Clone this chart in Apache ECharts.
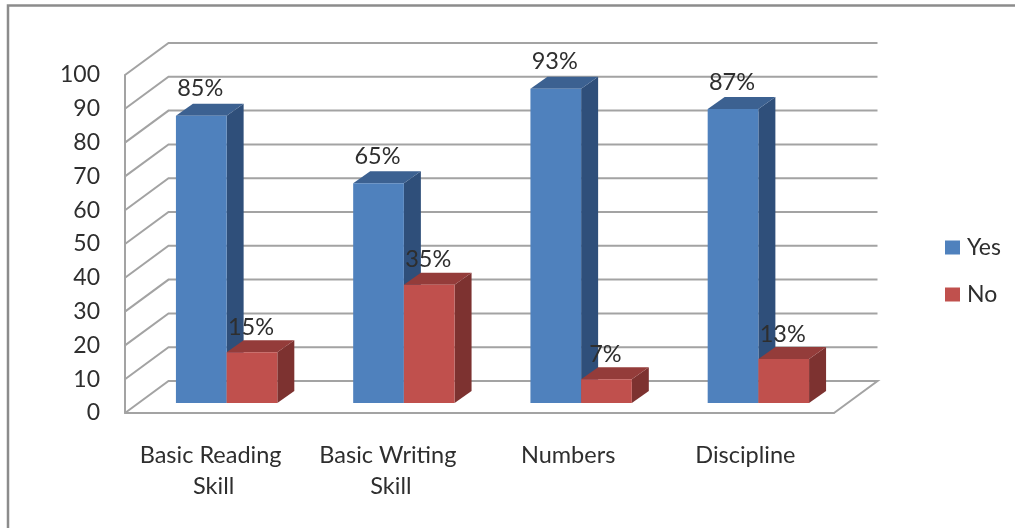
<!DOCTYPE html>
<html>
<head>
<meta charset="utf-8">
<style>html,body{margin:0;padding:0;background:#fff}#chart{width:1015px;height:528px}</style>
<script src="https://cdn.jsdelivr.net/npm/echarts@6/dist/echarts.min.js"></script>
</head>
<body>
<div id="chart"></div>
<script>
const categories = ['Basic Reading Skill', 'Basic Writing Skill', 'Numbers', 'Discipline'];
const yesValues = [85, 65, 93, 87];
const noValues = [15, 35, 7, 13];
const yTicks = [0, 10, 20, 30, 40, 50, 60, 70, 80, 90, 100];

// Pseudo-3D projection: how far the back wall and the bars are pushed up and to the right.
const wallDepth = [43.5, -32];
const barInset = [13, -10];
const barDepth = [17, -12];
const barShare = 0.286;
const gridColor = '#a3a3a3';
const textColor = '#2e2e2e';
const fontFamily = 'Lato';

function wallItem(params, api) {
  const sys = params.coordSys;
  const p = api.coord([0, api.value(1)]);
  const y = p[1];
  const left = sys.x;
  const right = sys.x + sys.width;
  const style = { stroke: gridColor, lineWidth: 2, fill: 'none' };
  const points = [
    [left, y],
    [left + wallDepth[0], y + wallDepth[1]],
    [right + wallDepth[0], y + wallDepth[1]]
  ];
  if (api.value(1) === 0) {
    points.push([right, y]);
  }
  return { type: 'polyline', shape: { points }, style, silent: true };
}

function barRenderer(side, labelGap, front, top, flank) {
  return function (params, api) {
    const base = api.coord([api.value(0), 0]);
    const head = api.coord([api.value(0), api.value(1)]);
    const w = api.size([1, 0])[0] * barShare;
    const x0 = base[0] + barInset[0] + (side < 0 ? -w : 0);
    const x1 = x0 + w;
    const y0 = base[1] + barInset[1];
    const y1 = head[1] + barInset[1];
    const dx = barDepth[0];
    const dy = barDepth[1];
    return {
      type: 'group',
      children: [
        { type: 'polygon', shape: { points: [[x1, y0], [x1 + dx, y0 + dy], [x1 + dx, y1 + dy], [x1, y1]] }, style: { fill: flank } },
        { type: 'polygon', shape: { points: [[x0, y1], [x1, y1], [x1 + dx, y1 + dy], [x0 + dx, y1 + dy]] }, style: { fill: top } },
        { type: 'rect', shape: { x: x0, y: y1, width: w, height: y0 - y1 }, style: { fill: front } },
        {
          type: 'text',
          z2: 50,
          style: {
            x: (x0 + x1) / 2 - 1,
            y: y1 - labelGap,
            text: api.value(1) + '%',
            fill: textColor,
            font: '23.5px ' + fontFamily,
            align: 'center',
            verticalAlign: 'middle'
          }
        }
      ]
    };
  };
}

const chart = echarts.init(document.getElementById('chart'), null, { renderer: 'canvas' });
chart.setOption({
  animation: false,
  backgroundColor: '#ffffff',
  textStyle: { fontFamily },
  graphic: [{
    type: 'polyline',
    silent: true,
    shape: { points: [[8, 528], [8, 5.5], [1015, 5.5]] },
    style: { stroke: '#8c8c8c', lineWidth: 2.5, fill: 'none' }
  }],
  grid: { left: 125, right: 181, top: 75, bottom: 115, containLabel: false },
  legend: {
    data: ['Yes', 'No'],
    orient: 'vertical',
    left: 940,
    top: 231,
    icon: 'rect',
    itemWidth: 15,
    itemHeight: 14,
    itemGap: 24,
    textStyle: { fontSize: 23, color: textColor, fontFamily, padding: [0, 0, 0, 2] }
  },
  xAxis: {
    type: 'category',
    data: categories,
    axisTick: { show: false },
    axisLine: { lineStyle: { color: gridColor, width: 2 } },
    axisLabel: {
      interval: 0,
      margin: 27,
      fontSize: 23.5,
      lineHeight: 31,
      color: textColor,
      fontFamily,
      width: 170,
      overflow: 'break'
    }
  },
  yAxis: {
    type: 'value',
    min: 0,
    max: 100,
    interval: 10,
    splitLine: { show: false },
    axisTick: { show: false },
    axisLine: { show: true, lineStyle: { color: gridColor, width: 2 } },
    axisLabel: { margin: 25, fontSize: 23, color: textColor, fontFamily, padding: [2, 0, 0, 0] }
  },
  series: [
    {
      name: 'walls',
      type: 'custom',
      clip: false,
      silent: true,
      z: 1,
      renderItem: wallItem,
      data: yTicks.map(t => [0, t])
    },
    {
      name: 'Yes',
      type: 'custom',
      clip: false,
      z: 2,
      itemStyle: { color: '#4f81bd' },
      renderItem: barRenderer(-1, 27, '#4f81bd', '#3c6191', '#2f4f7a'),
      data: categories.map((c, i) => [i, yesValues[i]])
    },
    {
      name: 'No',
      type: 'custom',
      clip: false,
      z: 3,
      itemStyle: { color: '#c0504d' },
      renderItem: barRenderer(1, 25, '#c0504d', '#943c3a', '#7d3230'),
      data: categories.map((c, i) => [i, noValues[i]])
    }
  ]
});
</script>
</body>
</html>
